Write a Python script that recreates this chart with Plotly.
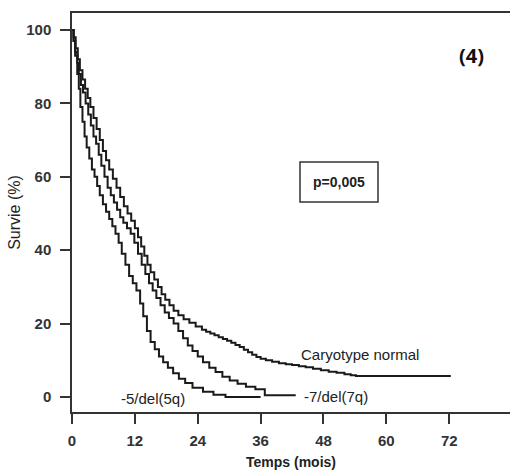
import plotly.graph_objects as go

# Kaplan-Meier survival estimates (months, % surviving) by karyotype group
normal_t = [0, 0.3, 0.7, 1.1, 1.5, 2.0, 2.5, 3.0, 3.5, 4.1, 4.7, 5.3, 5.9, 6.5, 7.1,
            7.8, 8.5, 9.2, 9.9, 10.6, 11.3, 12.0, 12.6, 13.2, 13.8, 14.4, 15.0, 15.7,
            16.4, 17.1, 17.8, 18.6, 19.4, 20.3, 21.3, 22.4, 23.6, 24.8, 25.6, 26.4,
            27.2, 28.0, 28.8, 29.6, 30.4, 31.2, 32.0, 32.8, 33.6, 34.4, 35.2, 36.0,
            37.0, 38.2, 39.5, 40.8, 42.0, 43.3, 44.6, 46.0, 47.5, 49.0, 50.5, 52.0,
            53.2, 54.2, 72.3]
normal_s = [100, 98, 95, 92, 89, 86.5, 84, 81.5, 79, 76, 73, 70, 67, 64.5, 62,
            59.5, 57, 54.5, 52, 50, 48, 46, 43.5, 41, 38.5, 36, 34, 32,
            30, 28, 26.5, 25, 23.5, 22.3, 21.2, 20.2, 19.2, 18.3, 17.8, 17.3,
            16.8, 16.3, 15.8, 15.3, 14.8, 14.2, 13.6, 12.9, 12.2, 11.5, 10.9, 10.4,
            10.0, 9.6, 9.2, 8.9, 8.7, 8.4, 8.1, 7.7, 7.3, 6.9, 6.6, 6.2,
            5.9, 5.7, 5.7]

del7_t = [0, 0.3, 0.6, 1.0, 1.3, 1.7, 2.1, 2.6, 3.1, 3.6, 4.1, 4.6, 5.1, 5.6, 6.2,
          6.8, 7.4, 8.0, 8.6, 9.2, 9.8, 10.5, 11.2, 11.9, 12.6, 13.3, 14.0, 14.7,
          15.4, 16.1, 16.9, 17.7, 18.5, 19.4, 20.3, 21.2, 22.1, 23.0, 24.0, 25.0,
          26.2, 27.4, 28.7, 30.1, 31.6, 33.2, 35.0, 36.8, 42.7]
del7_s = [100, 97, 94, 91, 88, 85, 83, 80, 77, 74, 71, 69, 66, 63, 60,
          57, 55, 53, 51, 49, 47.5, 46, 44.5, 42, 39, 36, 33.5, 31,
          29, 27, 25, 23, 21.5, 20, 18, 16, 14, 12.5, 11, 9.5,
          8, 6.8, 5.5, 4.5, 3.6, 2.8, 2.1, 0.5, 0.5]

del5_t = [0, 0.3, 0.6, 1.0, 1.3, 1.6, 2.0, 2.4, 2.8, 3.3, 3.8, 4.3, 4.8, 5.3, 5.9,
          6.5, 7.1, 7.7, 8.3, 8.9, 9.5, 10.2, 10.9, 11.6, 12.3, 13.0, 13.6, 14.3,
          15.0, 15.8, 16.6, 17.4, 18.3, 19.3, 20.4, 21.6, 23.0, 25.0, 27.0, 29.3, 36.0]
del5_s = [100, 97, 93, 88, 84, 79, 75, 71, 68, 65, 62, 60, 57.5, 55, 52.5,
          50.5, 48.5, 46.5, 44.5, 42, 39, 36, 33, 31, 29, 25.5, 22, 18,
          15, 13, 11, 9.5, 8, 6.5, 5, 3.8, 2.5, 1.4, 0.6, 0, 0]

x_ticks = [0, 12, 24, 36, 48, 60, 72]
y_ticks = [0, 20, 40, 60, 80, 100]

INK = "#1a1a1a"
AXIS = "#333333"
FONT = "Liberation Sans, Arial, sans-serif"

fig = go.Figure()
for name, t, s in [("Caryotype normal", normal_t, normal_s),
                   ("-7/del(7q)", del7_t, del7_s),
                   ("-5/del(5q)", del5_t, del5_s)]:
    fig.add_trace(go.Scatter(x=t, y=s, mode="lines", name=name,
                             line=dict(color=INK, width=2, shape="hv"),
                             showlegend=False, hoverinfo="skip"))

# curve labels
fig.add_annotation(x=55.0, y=11.7, text="Caryotype normal", showarrow=False,
                   font=dict(family=FONT, size=15, color="#222"))
fig.add_annotation(x=50.3, y=0.0, text="-7/del(7q)", showarrow=False,
                   font=dict(family=FONT, size=15, color="#222"))
fig.add_annotation(x=15.4, y=-0.5, text="-5/del(5q)", showarrow=False,
                   font=dict(family=FONT, size=15, color="#222"))

# log-rank p value in a box
fig.add_shape(type="rect", xref="paper", yref="paper",
              x0=(300 - 72) / 438, x1=(378 - 72) / 438,
              y0=(412 - 202) / 399, y1=(412 - 162) / 399,
              line=dict(color=AXIS, width=1.5), fillcolor="rgba(0,0,0,0)")
fig.add_annotation(xref="paper", yref="paper",
                   x=(339 - 72) / 438, y=(412 - 182) / 399,
                   text="<b>p=0,005</b>", showarrow=False,
                   font=dict(family=FONT, size=14, color="#222"))

# panel number
fig.add_annotation(xref="paper", yref="paper",
                   x=(486 - 72) / 438, y=(412 - 40) / 399,
                   text="(4)", showarrow=False,
                   font=dict(family="Open Sans, Lato, sans-serif", size=20,
                             color="#111", weight="bold"))

fig.update_xaxes(range=[0, 83.6], tickvals=x_ticks, ticks="outside", ticklen=10,
                 tickwidth=1.5, tickcolor=AXIS, showline=True, linecolor=AXIS,
                 linewidth=1.5, mirror=True, showgrid=False, zeroline=False,
                 tickfont=dict(family=FONT, size=15, color="#333", weight="bold"),
                 ticklabelstandoff=4,
                 title=dict(text="<b>Temps (mois)</b>", standoff=9,
                            font=dict(family=FONT, size=14, color="#222")))
fig.update_yaxes(range=[-4.09, 104.63], tickvals=y_ticks, ticks="outside", ticklen=10,
                 tickwidth=1.5, tickcolor=AXIS, showline=True, linecolor=AXIS,
                 linewidth=1.5, showgrid=False, zeroline=False,
                 tickfont=dict(family=FONT, size=15, color="#333", weight="bold"),
                 ticklabelstandoff=6,
                 title=dict(text="Survie (%)", standoff=2,
                            font=dict(family=FONT, size=16, color="#222")))

fig.update_layout(width=510, height=473, margin=dict(l=72, r=0, t=13, b=61),
                  paper_bgcolor="white", plot_bgcolor="white")

fig.write_html("out.html")
